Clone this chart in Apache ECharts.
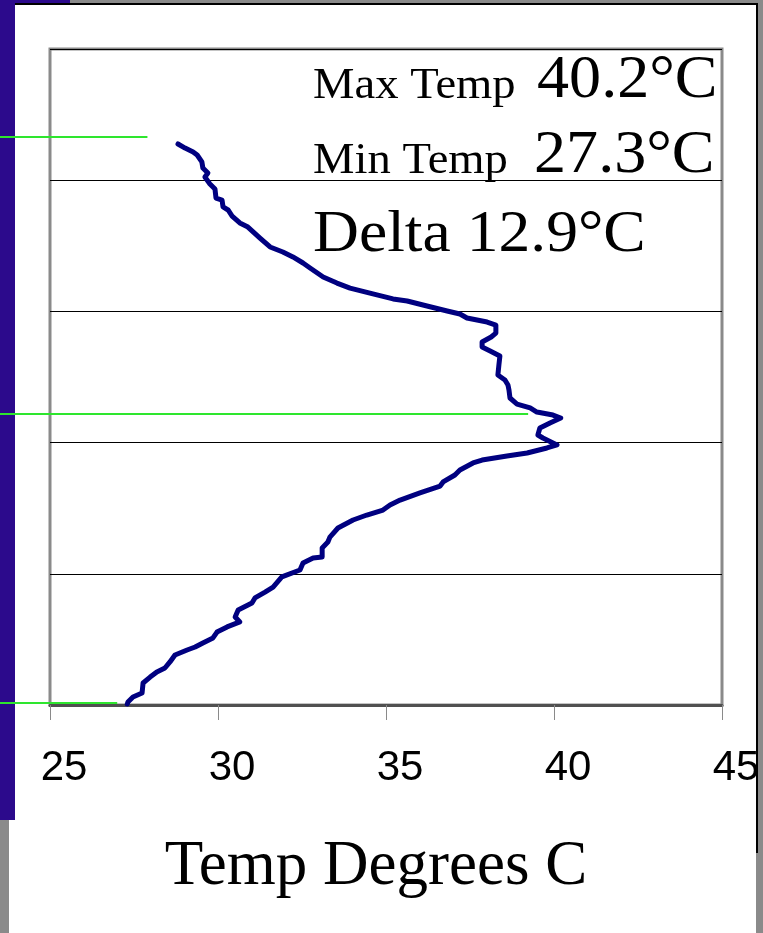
<!DOCTYPE html>
<html>
<head>
<meta charset="utf-8">
<style>
  html, body { margin: 0; padding: 0; background: #ffffff; }
  #chart { width: 763px; height: 933px; }
</style>
<script src="https://cdn.jsdelivr.net/npm/echarts@6/dist/echarts.min.js"></script>
</head>
<body>
<div id="chart"></div>
<script>
// Temperature profile: temperature (°C) against relative height (0 = floor level)
const profileTemp = [
  28.81, 29.02, 29.26, 29.38, 29.52, 29.55, 29.70, 29.61, 29.76, 29.91,
  29.94, 30.12, 30.15, 30.30, 30.42, 30.65, 30.89, 31.25, 31.55, 31.93,
  32.23, 32.53, 32.74, 33.13, 33.54, 33.93, 34.61, 35.21, 35.63, 36.22,
  36.82, 37.20, 37.41, 38.01, 38.27, 38.27, 38.13, 37.86, 37.86, 38.10,
  38.39, 38.36, 38.33, 38.54, 38.63, 38.66, 38.69, 38.90, 39.29, 39.49,
  39.97, 40.2, 39.88, 39.58, 39.52, 39.67, 40.09, 39.79, 39.20, 38.60,
  37.86, 37.59, 37.20, 37.05, 36.70, 36.61, 36.01, 35.42, 35.12, 34.91,
  34.43, 34.02, 33.57, 33.33, 33.27, 33.10, 33.10, 32.83, 32.53, 32.44,
  31.90, 31.64, 31.40, 31.10, 31.01, 30.60, 30.51, 30.65, 30.27, 29.97,
  29.85, 29.55, 29.32, 29.08, 28.72, 28.57, 28.42, 28.18, 27.98, 27.77,
  27.74, 27.47, 27.32, 27.3
];
const profileHeight = [
  4.276, 4.245, 4.215, 4.192, 4.139, 4.093, 4.055, 4.024, 3.971, 3.933,
  3.864, 3.849, 3.796, 3.773, 3.727, 3.674, 3.643, 3.559, 3.491, 3.453,
  3.415, 3.369, 3.331, 3.262, 3.216, 3.178, 3.133, 3.095, 3.079, 3.041,
  3.003, 2.980, 2.950, 2.919, 2.896, 2.835, 2.805, 2.767, 2.729, 2.698,
  2.660, 2.591, 2.515, 2.477, 2.439, 2.401, 2.340, 2.294, 2.264, 2.233,
  2.210, 2.187, 2.149, 2.111, 2.058, 2.035, 1.982, 1.959, 1.921, 1.898,
  1.867, 1.845, 1.791, 1.753, 1.700, 1.669, 1.616, 1.562, 1.524, 1.486,
  1.448, 1.410, 1.349, 1.280, 1.242, 1.197, 1.128, 1.120, 1.082, 1.029,
  0.976, 0.899, 0.861, 0.816, 0.777, 0.724, 0.671, 0.633, 0.595, 0.556,
  0.511, 0.473, 0.442, 0.419, 0.381, 0.328, 0.282, 0.252, 0.213, 0.168,
  0.091, 0.061, 0.023, 0.008
];

// Sensor level markers (green), drawn from the left edge of the slide
const markerHeights = [4.33, 2.218, 0.015];
const markerStartTemp = 23.51;
const markerEndTemps = [27.9, 39.23, 27.0];

// Temperature axis ticks
const tempTicks = [25, 30, 35, 40, 45];

const maxTemp = Math.max(...profileTemp);
const minTemp = Math.min(...profileTemp);
const deltaTemp = maxTemp - minTemp;

const profileData = profileTemp.map((t, i) => [t, profileHeight[i]]);
const markerData = markerHeights.map((h, i) => [markerStartTemp, markerEndTemps[i], h]);

const serif = 'Liberation Serif, Times New Roman, serif';
const sans = 'Liberation Sans, Arial, sans-serif';

const chart = echarts.init(document.getElementById('chart'), null, { renderer: 'canvas' });

function summaryText(text, x, y, size) {
  return {
    type: 'text', z: 50, x: x, y: y, scaleX: 1.06,
    style: { text: text, font: size + 'px ' + serif, fill: '#000', verticalAlign: 'middle' }
  };
}

chart.setOption({
  animation: false,
  backgroundColor: '#ffffff',
  grid: {
    left: 50, right: 41, top: 49, bottom: 228,
    show: true,
    borderColor: '#8a8a8a',
    borderWidth: 3,
    backgroundColor: 'transparent'
  },
  xAxis: {
    type: 'value',
    min: tempTicks[0],
    max: tempTicks[tempTicks.length - 1],
    interval: tempTicks[1] - tempTicks[0],
    name: 'Temp Degrees C',
    nameLocation: 'middle',
    nameGap: 131,
    nameTextStyle: {
      fontFamily: serif, fontSize: 63, color: '#000',
      lineHeight: 63, padding: [0, 20, 0, 0]
    },
    axisLine: { show: true, lineStyle: { color: '#505050', width: 3 } },
    axisTick: { show: true, length: 15, lineStyle: { color: '#8a8a8a', width: 1 } },
    axisLabel: {
      fontFamily: sans, fontSize: 42, color: '#000',
      lineHeight: 42, margin: 42, padding: [0, 0, 0, 28]
    },
    splitLine: { show: false }
  },
  yAxis: {
    type: 'value',
    min: 0, max: 5, interval: 1,
    axisLine: { show: false },
    axisTick: { show: false },
    axisLabel: { show: false },
    splitLine: { show: true, lineStyle: { color: '#000', width: 1 } }
  },
  series: [
    {
      type: 'line',
      data: profileData,
      showSymbol: false,
      smooth: false,
      lineStyle: { color: '#000080', width: 5, join: 'round', cap: 'round' },
      z: 4
    },
    {
      type: 'custom',
      data: markerData,
      clip: false,
      silent: true,
      z: 3,
      encode: { x: [0, 1], y: 2 },
      renderItem: function (params, api) {
        const h = api.value(2);
        const p0 = api.coord([api.value(0), h]);
        const p1 = api.coord([api.value(1), h]);
        return {
          type: 'line',
          shape: { x1: p0[0], y1: p0[1], x2: p1[0], y2: p1[1] },
          style: { stroke: '#2ee62e', lineWidth: 2 }
        };
      }
    }
  ],
  graphic: [
    // slide frame: purple side strip sits beneath the series
    { type: 'rect', z: 0, shape: { x: 0, y: 0, width: 15, height: 820 }, style: { fill: '#2c0a8c' } },
    { type: 'rect', z: 0, shape: { x: 15, y: 0, width: 55, height: 4 }, style: { fill: '#2c0a8c' } },
    { type: 'rect', z: 100, shape: { x: 70, y: 0, width: 693, height: 3 }, style: { fill: '#8a8a8a' } },
    { type: 'rect', z: 100, shape: { x: 15, y: 3, width: 742, height: 2 }, style: { fill: '#000' } },
    { type: 'rect', z: 100, shape: { x: 756, y: 3, width: 2, height: 850 }, style: { fill: '#000' } },
    { type: 'rect', z: 100, shape: { x: 758, y: 0, width: 5, height: 853 }, style: { fill: '#8a8a8a' } },
    { type: 'rect', z: 100, shape: { x: 756, y: 853, width: 7, height: 80 }, style: { fill: '#8a8a8a' } },
    { type: 'rect', z: 100, shape: { x: 0, y: 820, width: 9, height: 113 }, style: { fill: '#8a8a8a' } },
    // summary text
    summaryText('Max Temp', 313, 86, 44),
    summaryText(maxTemp.toFixed(1) + '°C', 537, 81, 60.5),
    summaryText('Min Temp', 313, 161, 44),
    summaryText(minTemp.toFixed(1) + '°C', 534, 156, 60.5),
    summaryText('Delta ' + deltaTemp.toFixed(1) + '°C', 313, 235, 60)
  ]
});
</script>
</body>
</html>
